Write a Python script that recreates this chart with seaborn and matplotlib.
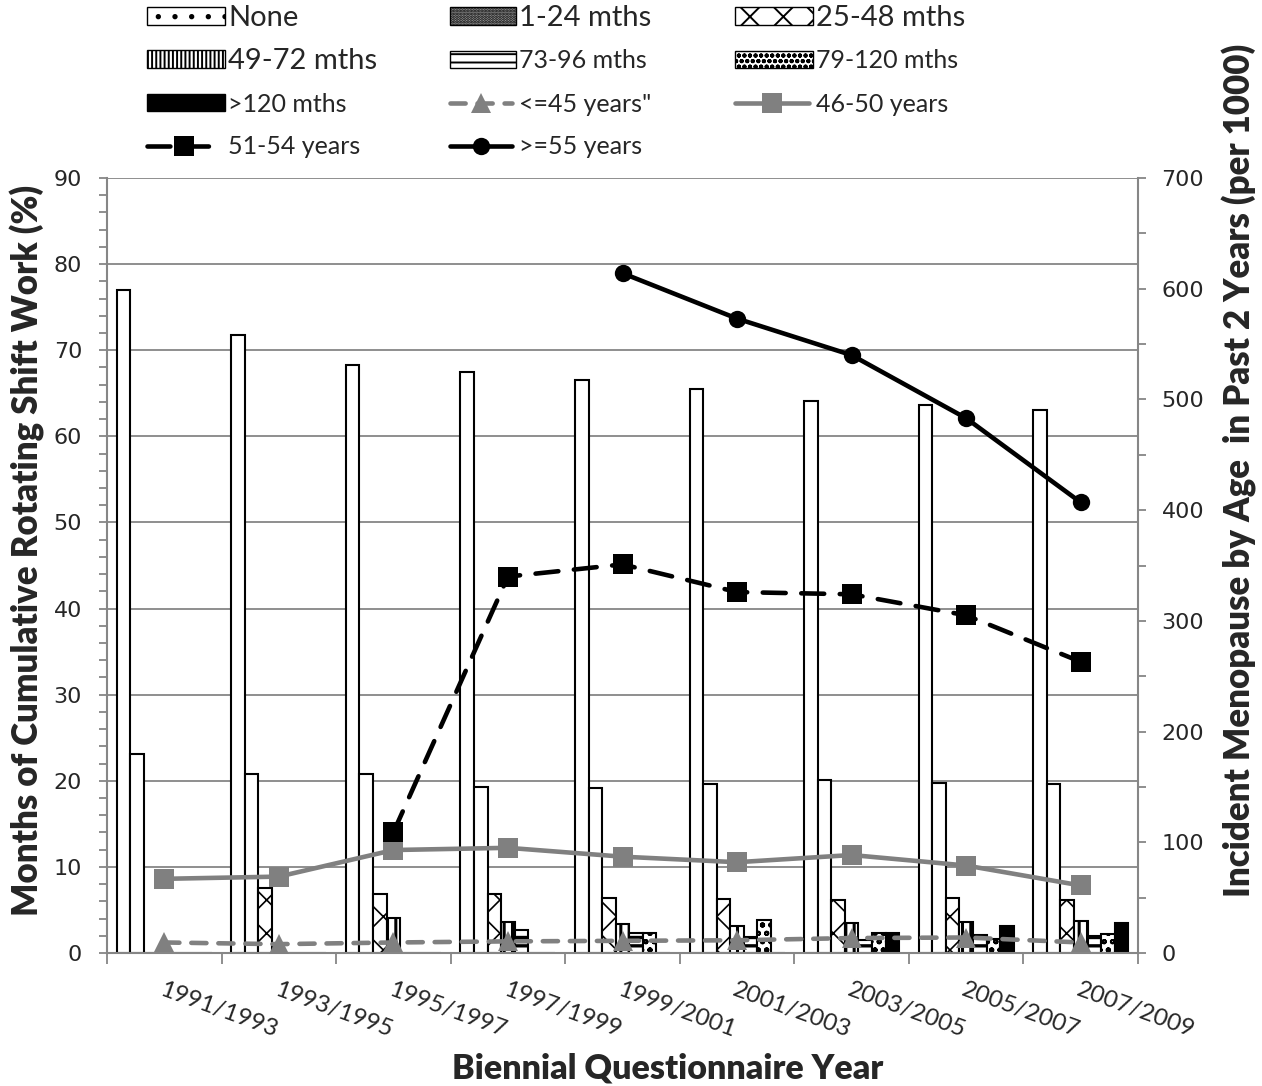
import numpy as np
import pandas as pd
import matplotlib
matplotlib.use("Agg")
import matplotlib.pyplot as plt
import seaborn as sns
from matplotlib.patches import Patch
from matplotlib.lines import Line2D
from matplotlib.ticker import MultipleLocator

# ---------------- data ----------------
categories = ["1991/1993", "1993/1995", "1995/1997", "1997/1999", "1999/2001",
              "2001/2003", "2003/2005", "2005/2007", "2007/2009"]

bar_series = ["None", "1-24 mths", "25-48 mths", "49-72 mths",
              "73-96 mths", "79-120 mths", ">120 mths"]
none_pct = [77.0, 71.8, 68.3, 67.5, 66.5, 65.5, 64.1, 63.6, 63.1]
m1_24 = [23.1, 20.8, 20.8, 19.3, 19.2, 19.6, 20.1, 19.8, 19.6]
m25_48 = [0, 7.5, 6.9, 6.9, 6.35, 6.3, 6.15, 6.4, 6.15]
m49_72 = [0, 0, 4.1, 3.6, 3.35, 3.1, 3.45, 3.6, 3.75]
m73_96 = [0, 0, 0, 2.7, 2.3, 1.9, 1.5, 2.1, 2.0]
m79_120 = [0, 0, 0, 0, 2.3, 3.8, 2.3, 1.6, 2.2]
m120 = [0, 0, 0, 0, 0, 0, 2.3, 3.1, 3.5]

line_series = ['<=45 years"', "46-50 years", "51-54 years", ">=55 years"]
age_le45 = [9.5, 8.0, 9.5, 10.5, 11.0, 11.5, 13.5, 14.0, 9.5]
age_46_50 = [67, 69, 93, 95, 87, 82, 88.5, 79, 61]
age_51_54 = [np.nan, np.nan, 109, 340, 351, 326, 324, 305, 263]
age_ge55 = [np.nan, np.nan, np.nan, np.nan, 614, 573, 540, 483, 407]

# ---------------- style ----------------
sns.set_theme(style="white")
plt.rcParams["font.family"] = ["Lato", "DejaVu Sans"]
plt.rcParams["hatch.linewidth"] = 1.4
plt.rcParams["hatch.color"] = "black"

GRAY = "#808080"
AXC = "#868686"

bar_values = [none_pct, m1_24, m25_48, m49_72, m73_96, m79_120, m120]
bars_df = pd.DataFrame({
    "Year": [c for _ in bar_series for c in categories],
    "Shift": [s for s in bar_series for _ in categories],
    "pct": [v for vals in bar_values for v in vals],
})

# (face, hatch, hatch linewidth)
bar_style = {
    "None": ("white", None, 1.4),
    "1-24 mths": ("white", None, 1.4),
    "25-48 mths": ("white", "x", 1.2),
    "49-72 mths": ("white", "||", 2.2),
    "73-96 mths": ("white", "--", 2.4),
    "79-120 mths": ("white", "oo", 1.4),
    ">120 mths": ("black", None, 1.4),
}
legend_style = {
    "None": ("white", ".", 1.4),
    "1-24 mths": ("#9a9a9a", "......", 1.2),
    "25-48 mths": ("white", "x", 1.2),
    "49-72 mths": ("white", "||||", 2.6),
    "73-96 mths": ("white", "--", 3.0),
    "79-120 mths": ("white", "ooo", 1.4),
    ">120 mths": ("black", None, 1.4),
}


def set_hlw(p, lw):
    if hasattr(p, "set_hatch_linewidth"):
        p.set_hatch_linewidth(lw)


line_style = {
    '<=45 years"': dict(color=GRAY, ls=(0, (3.3, 2.6)), marker="^", ms=14),
    "46-50 years": dict(color=GRAY, ls="-", marker="s", ms=14),
    "51-54 years": dict(color="black", ls=(0, (5, 3.4)), marker="s", ms=14),
    ">=55 years": dict(color="black", ls="-", marker="o", ms=12.5),
}
line_values = [age_le45, age_46_50, age_51_54, age_ge55]

fig = plt.figure(figsize=(12.62, 10.86), dpi=100)
ax = fig.add_axes([107 / 1262, 1 - 953 / 1086, (1138 - 107) / 1262, (953 - 178) / 1086])

sns.barplot(data=bars_df, x="Year", y="pct", hue="Shift", order=categories,
            hue_order=bar_series, palette={s: "white" for s in bar_series},
            saturation=1, width=0.83, gap=0, errorbar=None, edgecolor="black",
            linewidth=1.5, legend=False, ax=ax)
for cont, s in zip(ax.containers, bar_series):
    face, hatch, hlw = bar_style[s]
    for p in cont:
        p.set_facecolor(face)
        p.set_edgecolor("black")
        if hatch:
            p.set_hatch(hatch)
            set_hlw(p, hlw)

ax2 = ax.twinx()
for s, vals in zip(line_series, line_values):
    st = line_style[s]
    d = pd.DataFrame({"Year": categories, "rate": vals})
    sns.lineplot(data=d, x="Year", y="rate", sort=False, ax=ax2,
                 color=st["color"], linestyle=st["ls"], linewidth=3.3,
                 marker=st["marker"], markersize=st["ms"],
                 markeredgewidth=0, markeredgecolor=st["color"],
                 dash_capstyle="round", zorder=3)

ax.set_xlim(-0.5, 8.5)
ax.set_ylim(0, 90)
ax2.set_ylim(0, 700)

ax.yaxis.set_major_locator(MultipleLocator(10))
ax.yaxis.set_minor_locator(MultipleLocator(2))
ax2.yaxis.set_major_locator(MultipleLocator(100))
ax2.yaxis.set_minor_locator(MultipleLocator(50))
ax.set_axisbelow(True)
ax.yaxis.grid(True, which="major", color=AXC, linewidth=1.3)
ax.xaxis.grid(False)

for a in (ax, ax2):
    for sp in a.spines.values():
        sp.set_visible(False)
ax.spines["left"].set_visible(True)
ax.spines["bottom"].set_visible(True)
ax2.spines["right"].set_visible(True)
for sp in (ax.spines["left"], ax.spines["bottom"], ax2.spines["right"]):
    sp.set_color(AXC)
    sp.set_linewidth(1.5)

ax.tick_params(axis="y", which="both", direction="out", left=True, length=6,
               width=1.3, color=AXC, labelsize=16, pad=12)
ax2.tick_params(axis="y", which="both", direction="out", right=True, length=6,
                width=1.3, color=AXC, labelsize=16, pad=11)
for lab in ax.get_yticklabels() + ax2.get_yticklabels():
    lab.set_family("DejaVu Sans")

ax.set_xticks(range(len(categories)))
ax.set_xticklabels(categories, rotation=-20, ha="left", va="top",
                   rotation_mode="anchor", fontsize=17.5)
ax.set_xticks(np.arange(-0.5, len(categories), 1.0), minor=True)
ax.tick_params(axis="x", which="major", length=0, pad=19)
ax.tick_params(axis="x", which="minor", bottom=True, direction="out",
               length=8, width=1.3, color=AXC)

TITLE_KW = dict(fontsize=25, fontweight="heavy")
ax.set_xlabel("Biennial Questionnaire Year", fontsize=24.5, fontweight="heavy")
ax.xaxis.set_label_coords(0.544, -0.128)
ax.set_ylabel("Months of Cumulative Rotating Shift Work (%)", **TITLE_KW)
ax.yaxis.set_label_coords(-0.06, 0.52)
ax2.set_ylabel("Incident Menopause by Age  in Past 2 Years (per 1000)", **TITLE_KW)
ax2.yaxis.set_label_coords(1.0815, 0.623)

# ---------------- legend (Excel-like grid, row-major) ----------------
entries = []
for s in bar_series:
    face, hatch, hlw = legend_style[s]
    patch = Patch(facecolor=face, edgecolor="black", hatch=hatch, linewidth=1.0)
    set_hlw(patch, hlw)
    entries.append((patch, s))
for s in line_series:
    st = line_style[s]
    entries.append((Line2D([], [], color=st["color"], linestyle=st["ls"],
                           linewidth=3.3, marker=st["marker"],
                           markersize=st["ms"], markeredgewidth=0,
                           dash_capstyle="round"), s))
big = {"None", "1-24 mths", "25-48 mths", "49-72 mths"}
col_x = [147, 450, 735]
handle_w = [78, 66, 78]
row_y = [18, 61, 104, 147]
for i, (h, lab) in enumerate(entries):
    r, c = divmod(i, 3)
    size = 21 if lab in big else 18
    fpx = size * 100 / 72
    is_line = isinstance(h, Line2D)
    hw = handle_w[c] - (4 if is_line else 0)
    pad = 3 + (4 if is_line else 0)
    fig.legend(handles=[h], labels=[lab], loc="center left",
               bbox_to_anchor=(col_x[c] / 1262, 1 - row_y[r] / 1086),
               frameon=False, fontsize=size, borderpad=0, borderaxespad=0,
               handlelength=hw / fpx, handleheight=17 / fpx,
               handletextpad=pad / fpx)

fig.savefig("out.png", dpi=100)
